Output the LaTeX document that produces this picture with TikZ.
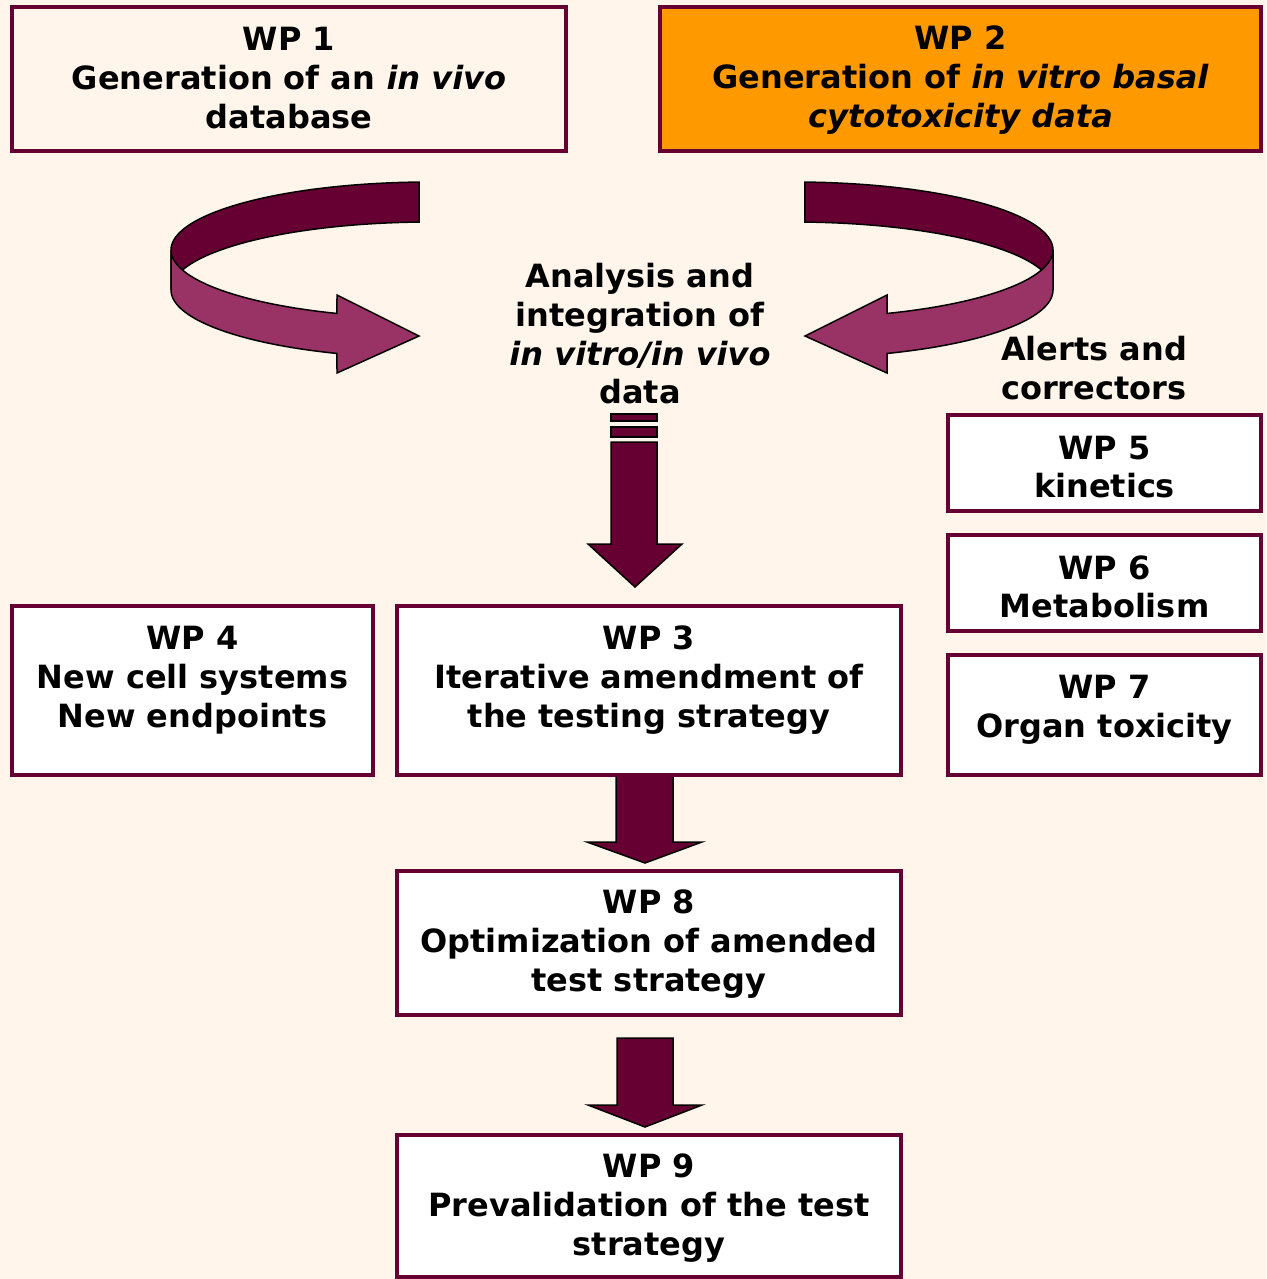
\documentclass[tikz,border=0pt]{standalone}
\usepackage{fontspec}
\setmainfont{DejaVu Sans}
\usepackage{xcolor}
\definecolor{wpbg}{HTML}{FFF5EB}
\definecolor{wpline}{HTML}{660033}
\definecolor{wplight}{HTML}{993366}
\definecolor{wporange}{HTML}{FF9900}

\begin{document}
\begin{tikzpicture}[x=1pt,y=1pt,yscale=-1,
    wpbox/.style={draw=wpline, line width=4pt, fill=white, inner sep=0pt},
    wptext/.style={align=center, inner sep=0pt, font=\fontsize{32pt}{38.7pt}\selectfont\bfseries},
    blockarrow/.style={draw=black, line width=1.5pt, fill=wpline, line join=miter},
    ribbondark/.style={draw=black, line width=1.5pt, fill=wpline},
    ribbonlight/.style={draw=black, line width=1.5pt, fill=wplight}]
        %set diagram left start at 0, and has height of 1279
        \fill[wpbg] (0,0) rectangle (1266,1279);
        \useasboundingbox (0,0) rectangle (1266,1279);

        %Shape: Ribbon Arrows (left one, and its mirror image on the right)
        \foreach \s/\m in {0/1, 1224/-1}{
          \begin{scope}[xshift=\s, xscale=\m]
            \draw[ribbondark] plot[domain=92.4:180, samples=40, variable=\t] ({430+259*cos(\t)},{250-68*sin(\t)})
              -- plot[domain=180:92.4, samples=40, variable=\t] ({430+259*cos(\t)},{290-68*sin(\t)}) -- cycle;
            \draw[ribbonlight] plot[domain=180:248.95, samples=40, variable=\t] ({430+259*cos(\t)},{250-68*sin(\t)})
              -- (337,295) -- (419,336) -- (337,373)
              -- plot[domain=248.95:180, samples=40, variable=\t] ({430+259*cos(\t)},{290-68*sin(\t)}) -- cycle;
          \end{scope}
        }

        %Shape: Down Arrow with stripes
        \draw[blockarrow] (611,414) rectangle (657,421);
        \draw[blockarrow] (611,427) rectangle (657,437);
        \draw[blockarrow] (611,442) -- (657,442) -- (657,544) -- (682,544) -- (635,587) -- (588,544) -- (611,544) -- cycle;
        %Shape: Down Arrow
        \draw[blockarrow] (616,775) -- (673,775) -- (673,842) -- (702,842) -- (645,863) -- (587,842) -- (616,842) -- cycle;
        %Shape: Down Arrow
        \draw[blockarrow] (617,1038) -- (673,1038) -- (673,1105) -- (702,1105) -- (645,1127) -- (588,1105) -- (617,1105) -- cycle;

        %Shape: Rectangles
        \node[wpbox, fill=wpbg, minimum width=554pt, minimum height=144pt] (wp1) at (289,79) {};
        \node[wpbox, fill=wporange, minimum width=601pt, minimum height=144pt] (wp2) at (960.5,79) {};
        \node[wpbox, minimum width=361pt, minimum height=169pt] (wp4) at (192.5,690.5) {};
        \node[wpbox, minimum width=504pt, minimum height=169pt] (wp3) at (649,690.5) {};
        \node[wpbox, minimum width=313pt, minimum height=96pt] (wp5) at (1104.5,463) {};
        \node[wpbox, minimum width=313pt, minimum height=96pt] (wp6) at (1104.5,583) {};
        \node[wpbox, minimum width=313pt, minimum height=120pt] (wp7) at (1104.5,715) {};
        \node[wpbox, minimum width=504pt, minimum height=144pt] (wp8) at (649,943) {};
        \node[wpbox, minimum width=504pt, minimum height=142pt] (wp9) at (649,1206) {};

        % Text Node
        \node[wptext] (wp1text) at (289,78) {WP 1\\Generation of an \textit{in vivo}\\database};
        \node[wptext] (wp2text) at (960.5,80) {WP 2\\Generation of \textit{in vitro basal}\\\textit{cytotoxicity data}};
        \node[wptext] (analysis) at (640,334) {Analysis and\\integration of\\\textit{in vitro/in vivo}\\data};
        \node[wptext, align=left, anchor=west] (alerts) at (1001,368) {Alerts and\\correctors};
        \node[wptext] (wp5text) at (1104.5,467) {WP 5\\kinetics};
        \node[wptext] (wp6text) at (1104.5,587) {WP 6\\Metabolism};
        \node[wptext] (wp7text) at (1104.5,710) {WP 7\\Organ toxicity};
        \node[wptext] (wp4text) at (192.5,680) {WP 4\\New cell systems\\New endpoints};
        \node[wptext] (wp3text) at (649,680) {WP 3\\Iterative amendment of\\the testing strategy};
        \node[wptext] (wp8text) at (649,944) {WP 8\\Optimization of amended\\test strategy};
        \node[wptext] (wp9text) at (649,1208) {WP 9\\Prevalidation of the test\\strategy};

\end{tikzpicture}
\end{document}
